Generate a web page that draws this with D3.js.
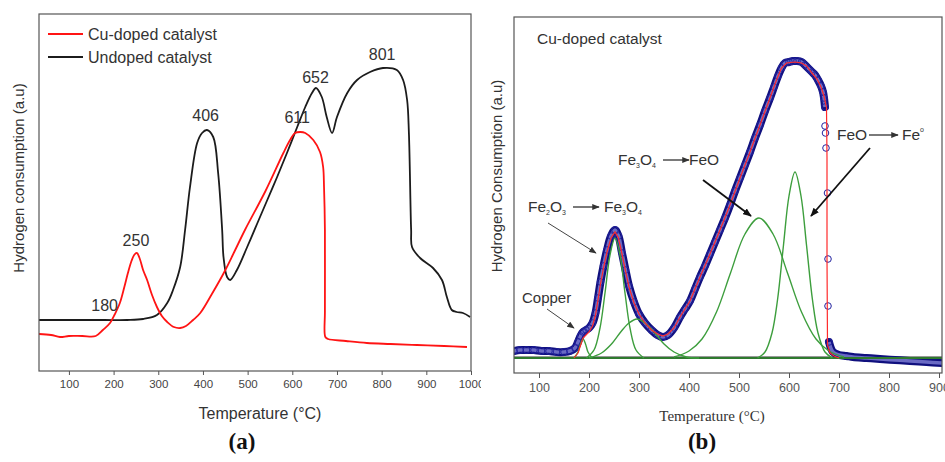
<!DOCTYPE html>
<html><head><meta charset="utf-8">
<script src="https://cdn.jsdelivr.net/npm/d3@7"></script>
<style>body{margin:0;background:#fff}svg{display:block}</style>
</head><body>
<svg id="c" width="945" height="462"></svg>
<script>
// ---------- Panel (a) data: [temperature °C, hydrogen consumption a.u.] ----------
const cuDoped = [[33,37],[60,36],[80,34],[100,35],[130,35],[160,35],[176,41],[192,48],[203,57],[214,68],[224,84],[232,98],[240,110],[246,116],[252,118],[258,113],[266,101],[275,91],[286,76],[297,64],[308,55],[320,49],[335,44],[349,43],[362,45],[378,51],[394,58],[420,77],[449,100],[470,119],[494,141],[540,180],[580,218],[595,231],[606,238],[618,239],[629,238],[647,231],[662,219],[669,204],[671,184],[673,141],[673,60],[674,34],[680,32],[720,30],[767,28],[820,27],[879,26],[940,25],[991,24]];
const undoped = [[33,51],[100,51],[180,51],[230,51],[266,52],[297,56],[320,68],[333,81],[349,104],[360,141],[371,184],[387,228],[398,238],[409,241],[423,234],[434,198],[443,141],[446,114],[454,94],[461,91],[476,101],[499,124],[521,147],[544,171],[566,194],[588,218],[611,244],[629,264],[644,278],[653,283],[666,274],[677,254],[689,238],[700,254],[723,278],[745,291],[774,299],[803,303],[834,301],[848,291],[857,271],[861,238],[866,141],[868,124],[886,113],[915,103],[935,91],[946,74],[957,61],[968,59],[982,58],[998,54]];
const peakLabels = [["180",180,60],["250",250,125],["406",406,250],["611",611,248],["652",652,288],["801",801,311]];
const legendItems = ["Cu-doped catalyst","Undoped catalyst"];
const ticksA = [100,200,300,400,500,600,700,800,900,1000];

// ---------- Panel (b) data ----------
const expMain = [[50,7],[62,8],[75,8],[90,8],[105,7],[120,7],[135,6],[150,6],[162,7],[172,10],[178,16],[183,22],[188,26],[194,28],[200,30],[207,35],[213,45],[218,60],[223,76],[229,92],[236,108],[244,122],[252,128],[259,122],[266,105],[273,88],[280,72],[290,56],[300,44],[312,35],[325,28],[337,23],[348,21],[358,23],[370,30],[382,41],[392,49],[402,57],[412,69],[422,81],[432,92],[442,104],[452,116],[462,128],[472,140],[482,153],[492,167],[502,180],[512,193],[522,206],[532,220],[542,233],[552,247],[562,260],[570,271],[578,282],[585,290],[592,295],[600,296],[608,297],[616,297],[625,296],[632,293],[640,289],[646,286],[652,283],[658,278],[664,272],[668,266],[670,260],[672,251]];
const expDrop = [[672,232],[673,225],[674,210],[677,165],[678,99],[678,52],[680,16]];
const expTail = [[680,16],[688,6],[700,3],[715,2],[728,1],[755,0],[782,-1],[812,-2],[842,-3],[875,-4],[906,-5]];
const fitLine = [[170,0],[178,5],[184,14],[188,20],[194,23],[200,26],[207,32],[213,43],[218,58],[223,74],[229,90],[236,106],[244,120],[252,126],[259,120],[266,104],[273,87],[280,71],[290,55],[300,44],[312,35],[325,28],[337,24],[348,22],[358,24],[370,30],[382,41],[402,57],[422,81],[442,104],[462,128],[482,153],[502,180],[522,206],[542,233],[562,260],[575,278],[585,290],[595,295],[612,296],[625,295],[635,292],[646,285],[656,279],[664,271],[670,262],[675,250],[676,200],[676,100],[677,13],[682,5],[690,2],[700,0]];
const compCopper = [[170,0],[178,6],[183,14],[188,19],[193,14],[198,6],[206,0]];
const compFe2O3 = [[195,0],[210,8],[222,30],[232,65],[242,103],[252,120],[262,103],[272,65],[282,30],[294,8],[310,0]];
const comp296 = [[200,0],[225,5],[245,14],[265,27],[280,35],[296,39],[312,35],[330,26],[350,14],[370,6],[395,1],[420,0]];
const comp540 = [[370,1],[400,7],[426,19],[455,46],[483,85],[512,124],[540,140],[568,124],[597,85],[625,46],[654,19],[680,7],[710,1]];
const comp612 = [[537,0],[552,6],[566,25],[577,58],[589,113],[600,162],[612,186],[624,162],[635,113],[647,58],[658,25],[672,6],[687,0]];
const ticksB = [100,200,300,400,500,600,700,800,900];

const sans = "'Liberation Sans', Arial, sans-serif";
const serif = "'Liberation Serif', 'Times New Roman', serif";
const svg = d3.select("#c");
const defs = svg.append("defs");
defs.append("clipPath").attr("id","clipA").append("rect").attr("x",0).attr("y",0).attr("width",481).attr("height",462);
defs.append("clipPath").attr("id","plotA").append("rect").attr("x",39).attr("y",14).attr("width",432).attr("height",357);
defs.append("clipPath").attr("id","plotB").append("rect").attr("x",514).attr("y",17).attr("width",428).attr("height",356);
function marker(id, col, w, h){
  defs.append("marker").attr("id",id).attr("viewBox","0 0 10 8").attr("refX",9).attr("refY",4)
    .attr("markerWidth",w).attr("markerHeight",h).attr("markerUnits","userSpaceOnUse").attr("orient","auto")
    .append("path").attr("d","M0,0L10,4L0,8Z").attr("fill",col);
}
marker("ah","#111",9,7);
marker("ahs","#333",8,6);

// ================= Panel (a) =================
const gA = svg.append("g").attr("clip-path","url(#clipA)");
const xa = d3.scaleLinear().domain([33,1000]).range([39,471]);
const ya = d3.scaleLinear().domain([0,357]).range([371,14]);
const lineA = d3.line().x(d=>xa(d[0])).y(d=>ya(d[1])).curve(d3.curveCatmullRom.alpha(0.5));
const pA = gA.append("g").attr("clip-path","url(#plotA)");
pA.append("path").datum(undoped).attr("d",lineA).attr("fill","none").attr("stroke","#1c1c1c").attr("stroke-width",1.8);
pA.append("path").datum(cuDoped).attr("d",lineA).attr("fill","none").attr("stroke","#ff1414").attr("stroke-width",1.8);
gA.append("rect").attr("x",39).attr("y",14).attr("width",432).attr("height",357).attr("fill","none").attr("stroke","#555").attr("stroke-width",1.2);
const axA = gA.append("g").attr("transform","translate(0,371)").call(d3.axisBottom(xa).tickValues(ticksA).tickSize(4).tickFormat(d3.format("d")));
axA.select(".domain").remove();
axA.selectAll(".tick line").attr("stroke","#555");
axA.selectAll(".tick text").attr("font-family",sans).attr("font-size",11.5).attr("fill","#444").attr("dy","0.9em");
gA.append("text").attr("x",260).attr("y",419).attr("text-anchor","middle").attr("font-family",sans).attr("font-size",16).attr("fill","#333").text("Temperature (°C)");
gA.append("text").attr("transform","translate(24,178) rotate(-90)").attr("text-anchor","middle").attr("font-family",sans).attr("font-size",15).attr("fill","#333").text("Hydrogen consumption (a.u)");
gA.append("text").attr("x",242).attr("y",449).attr("text-anchor","middle").attr("font-family",serif).attr("font-weight","bold").attr("font-size",23).attr("fill","#111").text("(a)");
const legCols = ["#ff1414","#1c1c1c"];
legendItems.forEach((t,i)=>{
  const y = 34 + i*23;
  gA.append("line").attr("x1",48).attr("x2",83).attr("y1",y).attr("y2",y).attr("stroke",legCols[i]).attr("stroke-width",2.2);
  gA.append("text").attr("x",88).attr("y",y+5.5).attr("font-family",sans).attr("font-size",16).attr("fill","#333").text(t);
});
peakLabels.forEach(([t,xv,yv])=>{
  gA.append("text").attr("x",xa(xv)).attr("y",ya(yv)).attr("text-anchor","middle").attr("font-family",sans).attr("font-size",16).attr("fill","#333").text(t);
});

// ================= Panel (b) =================
const gB = svg.append("g");
const xb = d3.scaleLinear().domain([50,906]).range([514,942]);
const yb = d3.scaleLinear().domain([-15,341]).range([373,17]);
const lineB = d3.line().x(d=>xb(d[0])).y(d=>yb(d[1])).curve(d3.curveCatmullRom.alpha(0.5));
const pB = gB.append("g").attr("clip-path","url(#plotB)");
pB.append("line").attr("x1",xb(50)).attr("x2",xb(906)).attr("y1",yb(0)-1.5).attr("y2",yb(0)-1.5).attr("stroke","#999").attr("stroke-width",1);
[expMain, expTail].forEach(arr=>{
  pB.append("path").datum(arr).attr("d",lineB).attr("fill","none").attr("stroke","#10107e").attr("stroke-width",8).attr("stroke-linejoin","round").attr("stroke-linecap","round");
  pB.append("path").datum(arr).attr("d",lineB).attr("fill","none").attr("stroke","#6a6ac4").attr("stroke-width",3.5);
});
pB.selectAll("circle.e").data(expMain.concat(expDrop)).join("circle").attr("class","e")
  .attr("cx",d=>xb(d[0])).attr("cy",d=>yb(d[1])).attr("r",3.3).attr("fill","none").attr("stroke","#2323a0").attr("stroke-width",1);
pB.append("line").attr("x1",xb(50)).attr("x2",xb(906)).attr("y1",yb(0)).attr("y2",yb(0)).attr("stroke","#2e7a2e").attr("stroke-width",2);
[compCopper, compFe2O3, comp296, comp540, comp612].forEach(arr=>{
  pB.append("path").datum(arr).attr("d",lineB).attr("fill","none").attr("stroke","#3d9e3d").attr("stroke-width",1.4);
});
pB.append("path").datum(fitLine).attr("d",lineB.curve(d3.curveLinear)).attr("fill","none").attr("stroke","#ff2a2a").attr("stroke-width",1.2);
gB.append("rect").attr("x",514).attr("y",17).attr("width",428).attr("height",356).attr("fill","none").attr("stroke","#555").attr("stroke-width",1.2);
const axB = gB.append("g").attr("transform","translate(0,373)").call(d3.axisBottom(xb).tickValues(ticksB).tickSize(5).tickFormat(d3.format("d")));
axB.select(".domain").remove();
axB.selectAll(".tick line").attr("stroke","#555");
axB.selectAll(".tick text").attr("font-family",sans).attr("font-size",12.5).attr("fill","#555").attr("dy","0.85em");
gB.append("text").attr("x",712).attr("y",421).attr("text-anchor","middle").attr("font-family",serif).attr("font-size",15).attr("fill","#333").text("Temperature (°C)");
gB.append("text").attr("transform","translate(502,176) rotate(-90)").attr("text-anchor","middle").attr("font-family",sans).attr("font-size",15).attr("fill","#333").text("Hydrogen Consumption (a.u)");
gB.append("text").attr("x",702).attr("y",449).attr("text-anchor","middle").attr("font-family",serif).attr("font-weight","bold").attr("font-size",23).attr("fill","#111").text("(b)");
gB.append("text").attr("x",537).attr("y",44).attr("font-family",sans).attr("font-size",15.5).attr("fill","#333").text("Cu-doped catalyst");

function chem(x, y, parts, fill){
  const t = gB.append("text").attr("x",x).attr("y",y).attr("font-family",sans).attr("font-size",15.5).attr("fill",fill||"#333");
  parts.forEach(p=>{
    if (p[1]==="sub") t.append("tspan").attr("font-size",7).attr("dy",3).text(p[0]);
    else if (p[1]==="sup") t.append("tspan").attr("font-size",7).attr("dy",-8).text(p[0]);
    else if (p[1]==="back") t.append("tspan").attr("dy",-3).text(p[0]);
    else t.append("tspan").text(p[0]);
  });
}
function harrow(x1,x2,y){
  gB.append("line").attr("x1",x1).attr("x2",x2).attr("y1",y).attr("y2",y).attr("stroke","#222").attr("stroke-width",1.2).attr("marker-end","url(#ahs)");
}
chem(528,212,[["Fe"],["2","sub"],["O","back"],["3","sub"]]);
harrow(573,599,207);
chem(604,212,[["Fe"],["3","sub"],["O","back"],["4","sub"]]);
chem(618,165,[["Fe"],["3","sub"],["O","back"],["4","sub"]]);
harrow(663,689,160);
chem(689,165,[["FeO"]]);
chem(837,140,[["FeO"]]);
harrow(869,898,135);
chem(902,140,[["Fe"],["o","sup"]]);
gB.append("text").attr("x",522).attr("y",303).attr("font-family",sans).attr("font-size",15).attr("fill","#333").text("Copper");
gB.append("line").attr("x1",548).attr("y1",223).attr("x2",596).attr("y2",253).attr("stroke","#444").attr("stroke-width",1).attr("marker-end","url(#ahs)");
gB.append("line").attr("x1",547).attr("y1",309).attr("x2",574).attr("y2",328).attr("stroke","#444").attr("stroke-width",1).attr("marker-end","url(#ahs)");
gB.append("line").attr("x1",703).attr("y1",180).attr("x2",751).attr("y2",216).attr("stroke","#111").attr("stroke-width",1.8).attr("marker-end","url(#ah)");
gB.append("line").attr("x1",870).attr("y1",148).attr("x2",811).attr("y2",216).attr("stroke","#111").attr("stroke-width",1.8).attr("marker-end","url(#ah)");
</script>
</body></html>
